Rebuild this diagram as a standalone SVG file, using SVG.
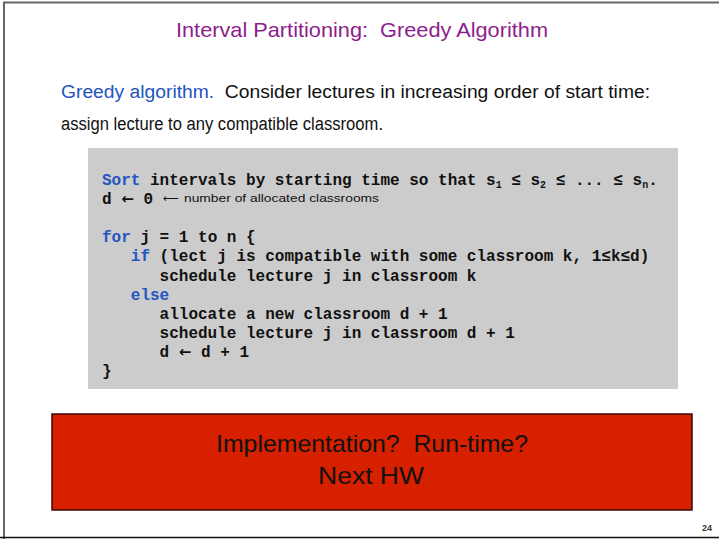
<svg xmlns="http://www.w3.org/2000/svg" width="719" height="539" viewBox="0 0 719 539">
<style>
.sans{font-family:"Liberation Sans","DejaVu Sans",sans-serif}
.code{font-family:"Liberation Mono","DejaVu Sans Mono",monospace;font-weight:bold;font-size:16px;fill:#111}
.kw{fill:#2256c2}
.sub{font-size:10px}
.arr{font-family:"DejaVu Sans",sans-serif;font-weight:bold}
</style>
<rect x="0" y="0" width="719" height="539" fill="#ffffff"/>
<g id="frame">
<line x1="3" y1="2.5" x2="719" y2="2.5" stroke="#666" stroke-width="2"/>
<line x1="4" y1="2" x2="4" y2="539" stroke="#666" stroke-width="2"/>
<line x1="0" y1="537.5" x2="719" y2="537.5" stroke="#111" stroke-width="1.5"/>
</g>
<g id="title">
<text class="sans" x="362" y="37" text-anchor="middle" font-size="21" fill="#8e1d8c" textLength="372" lengthAdjust="spacingAndGlyphs" xml:space="preserve">Interval Partitioning:  Greedy Algorithm</text>
</g>
<g id="intro">
<text class="sans" x="61" y="98" font-size="18" fill="#111" textLength="589" lengthAdjust="spacingAndGlyphs" xml:space="preserve"><tspan fill="#1f55bd">Greedy algorithm.</tspan>  Consider lectures in increasing order of start time:</text>
<text class="sans" x="61" y="130" font-size="18" fill="#111" textLength="322" lengthAdjust="spacingAndGlyphs">assign lecture to any compatible classroom.</text>
</g>
<g id="code">
<rect x="88" y="148" width="590" height="241" fill="#cccccc"/>
<text class="code" x="102" y="185"><tspan class="kw">Sort</tspan> intervals by starting time so that s<tspan class="sub" dy="3">1</tspan><tspan dy="-3"> ≤ s</tspan><tspan class="sub" dy="3">2</tspan><tspan dy="-3"> ≤ ... ≤ s</tspan><tspan class="sub" dy="3">n</tspan><tspan dy="-3">.</tspan></text>
<text class="code" x="102" y="204">d <tspan class="arr" font-size="15">←</tspan> 0</text>
<text x="163" y="202" font-family="DejaVu Sans,sans-serif" font-size="11" fill="#111">⟵</text>
<text class="sans" x="184" y="202" font-size="11" fill="#111" textLength="195" lengthAdjust="spacingAndGlyphs">number of allocated classrooms</text>
<text class="code" x="102" y="242"><tspan class="kw">for</tspan> j = 1 to n {</text>
<text class="code" x="130.8" y="261"><tspan class="kw">if</tspan> (lect j is compatible with some classroom k, 1≤k≤d)</text>
<text class="code" x="159.6" y="281">schedule lecture j in classroom k</text>
<text class="code kw" x="130.8" y="300">else</text>
<text class="code" x="159.6" y="319">allocate a new classroom d + 1</text>
<text class="code" x="159.6" y="338">schedule lecture j in classroom d + 1</text>
<text class="code" x="159.6" y="357">d <tspan class="arr" font-size="15">←</tspan> d + 1</text>
<text class="code" x="102" y="376">}</text>
</g>
<g id="note">
<rect x="52" y="414" width="640" height="96" fill="#d62000" stroke="#3a0a00" stroke-width="1.5"/>
<text class="sans" x="372" y="452" text-anchor="middle" font-size="24" fill="#111" textLength="312" lengthAdjust="spacingAndGlyphs" xml:space="preserve">Implementation?  Run-time?</text>
<text class="sans" x="371" y="484" text-anchor="middle" font-size="24" fill="#111" textLength="106" lengthAdjust="spacingAndGlyphs">Next HW</text>
</g>
<text class="sans" x="712" y="531" text-anchor="end" font-size="9" font-weight="bold" fill="#333">24</text>
</svg>
